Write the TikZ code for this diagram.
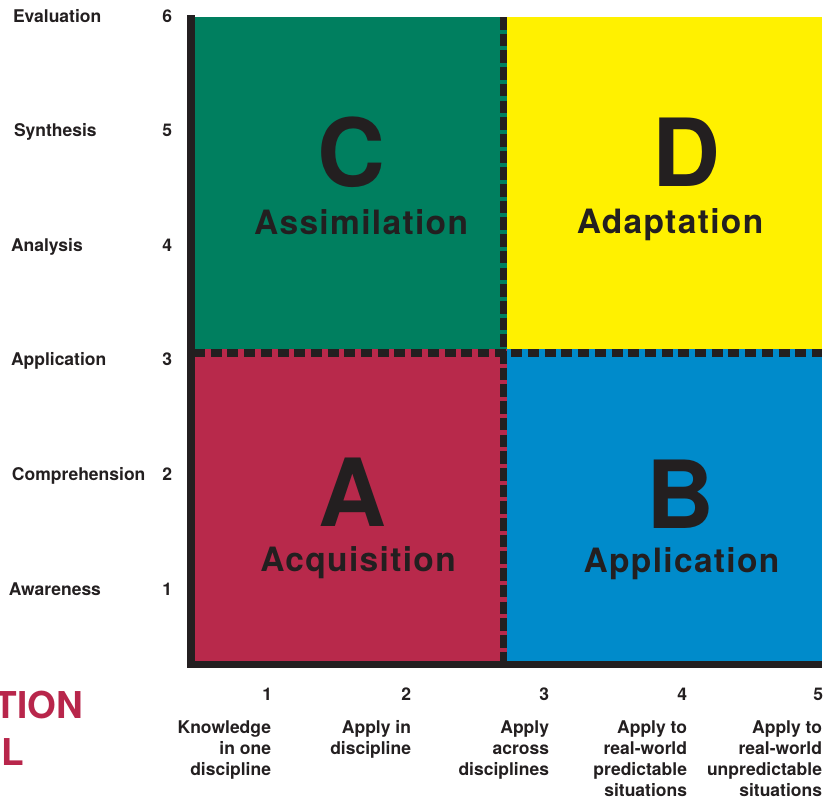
\documentclass[tikz,border=0pt]{standalone}
\usepackage{fontspec}
\setmainfont{TeX Gyre Heros}
\newfontfamily\spacedfont[LetterSpace=4]{TeX Gyre Heros}
\definecolor{qgreen}{HTML}{007F5F}
\definecolor{qyellow}{HTML}{FFF100}
\definecolor{qred}{HTML}{B8294B}
\definecolor{qblue}{HTML}{008BCB}
\definecolor{ink}{HTML}{231F20}
\definecolor{crimson}{HTML}{B8264B}
\tikzset{
  lbl/.style={inner sep=0pt, outer sep=0pt, text=ink, font=\fontsize{17.5}{21}\selectfont\bfseries},
  bigletter/.style={inner sep=0pt, outer sep=0pt, text=ink, anchor=base, font=\fontsize{94}{94}\selectfont\bfseries},
  qname/.style={inner sep=0pt, outer sep=0pt, text=ink, anchor=base, font=\spacedfont\fontsize{33.5}{33.5}\selectfont\bfseries},
  redtitle/.style={inner sep=0pt, outer sep=0pt, text=crimson, anchor=base east, font=\fontsize{37}{37}\selectfont\bfseries},
  dashline/.style={draw=ink, line width=8pt},
}
\begin{document}
\begin{tikzpicture}[x=1pt,y=-1pt]
\useasboundingbox (0,0) rectangle (826,801);
% quadrants
\fill[qgreen]  (194,17)  rectangle (507,349);
\fill[qred]    (194,349) rectangle (507,661);
\fill[qyellow] (507,17)  rectangle (822,349);
\fill[qblue]   (507,349) rectangle (822,661);
% dashed dividers
\draw[dashline, dash pattern=on 11pt off 5.7pt] (194,353) -- (822,353);
\draw[dashline, line width=7pt, dash pattern=on 12.6pt off 4.1pt] (503.5,17) -- (503.5,661);
% axes
\fill[ink] (187,15) rectangle (194.5,668);
\fill[ink] (187,661) rectangle (822,668);
% quadrant labels
\node[bigletter] (lC) at (351,186) {C};
\node[qname] (nC) at (361,234) {Assimilation};
\node[bigletter] (lD) at (686,186) {D};
\node[qname] (nD) at (670,233) {Adaptation};
\node[bigletter] (lA) at (352.5,526) {A};
\node[qname] (nA) at (358,571) {Acquisition};
\node[bigletter] (lB) at (680.5,528) {B};
\node[qname] (nB) at (681.5,572) {Application};
% vertical axis labels
\node[lbl, anchor=base west] (y6) at (13,22) {Evaluation};
\node[lbl, anchor=base west] (y5) at (14,136.6) {Synthesis};
\node[lbl, anchor=base west] (y4) at (11,251.2) {Analysis};
\node[lbl, anchor=base west] (y3) at (11,365.8) {Application};
\node[lbl, anchor=base west] (y2) at (12,480.4) {Comprehension};
\node[lbl, anchor=base west] (y1) at (9,595) {Awareness};
\node[lbl, anchor=base east] (n6) at (172,22) {6};
\node[lbl, anchor=base east] (n5) at (172,136.6) {5};
\node[lbl, anchor=base east] (n4) at (172,251.2) {4};
\node[lbl, anchor=base east] (n3) at (172,365.8) {3};
\node[lbl, anchor=base east] (n2) at (172,480.4) {2};
\node[lbl, anchor=base east] (n1) at (172,595) {1};
% horizontal axis labels
\node[lbl, anchor=base east] (x1) at (272,700) {1};
\node[lbl, anchor=base east] (x2) at (411,700) {2};
\node[lbl, anchor=base east] (x3) at (549,700) {3};
\node[lbl, anchor=base east] (x4) at (687,700) {4};
\node[lbl, anchor=base east] (x5) at (823,700) {5};
% (base of a multi-line node = baseline of its last line)
\node[lbl, anchor=base east, align=right] (t1) at (271,775) {Knowledge\\in one\\discipline};
\node[lbl, anchor=base east, align=right] (t2) at (411,754) {Apply in\\discipline};
\node[lbl, anchor=base east, align=right] (t3) at (549,775) {Apply\\across\\disciplines};
\node[lbl, anchor=base east, align=right] (t4) at (687,796) {Apply to\\real-world\\predictable\\situations};
\node[lbl, anchor=base east, align=right] (t5) at (822,796) {Apply to\\real-world\\unpredictable\\situations};
% cut-off title
\node[redtitle] (r1) at (83,718) {TION};
\node[redtitle] (r2) at (24,765) {L};
\end{tikzpicture}
\end{document}
